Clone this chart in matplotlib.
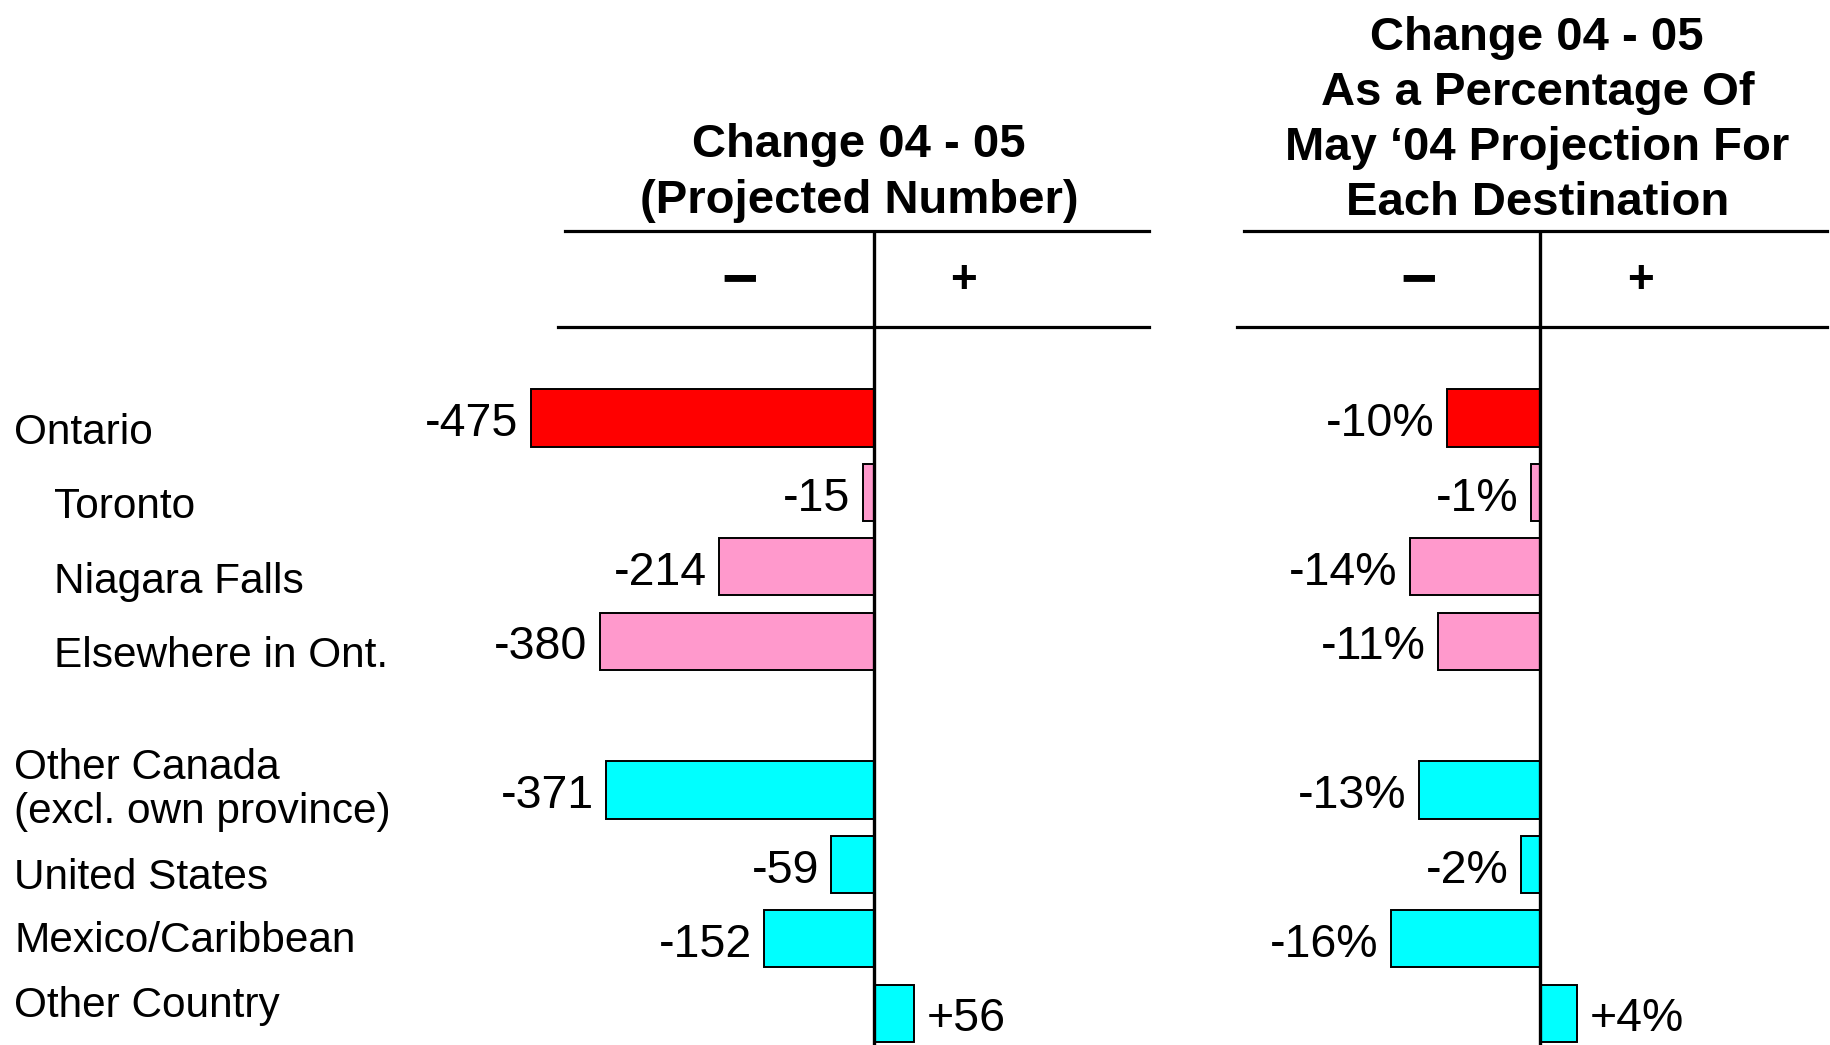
import numpy as np
import matplotlib.pyplot as plt
from matplotlib import transforms

plt.rcParams['font.family'] = ['Liberation Sans', 'DejaVu Sans']

categories = ['Ontario', 'Toronto', 'Niagara Falls', 'Elsewhere in Ont.',
              'Other Canada\n(excl. own province)', 'United States',
              'Mexico/Caribbean', 'Other Country']
indented = [False, True, True, True, False, False, False, False]
change_num = [-475, -15, -214, -380, -371, -59, -152, 56]
change_pct = [-10, -1, -14, -11, -13, -2, -16, 4]
bar_colors = ['#FF0000', '#FF99CC', '#FF99CC', '#FF99CC',
              '#00FFFF', '#00FFFF', '#00FFFF', '#00FFFF']
# the row labels do not sit exactly level with their bars
label_nudge = [0.20, 0.20, 0.20, 0.20, 0.0, 0.18, 0.03, -0.10]

# blank row between the Ontario block and the rest
idx = np.arange(len(categories))
ypos = idx + (idx >= 4)

W, H = 1831, 1045
fig = plt.figure(figsize=(W / 100, H / 100), dpi=100)
fig.patch.set_facecolor('white')

top = 231
ax1 = fig.add_axes([400 / W, 0, (1149 - 400) / W, (H - top) / H])
ax2 = fig.add_axes([1237 / W, 0, (1831 - 1237) / W, (H - top) / H])

row_px = 74.4
ylim = ((H - 418) / row_px, (top - 418) / row_px)

for ax, vals, xl, fmt in [(ax1, change_num, (-656.5, 380.9), '{:+d}'),
                          (ax2, change_pct, (-32.6, 31.3), '{:+d}%')]:
    ax.barh(ypos, vals, height=0.77, color=bar_colors, edgecolor='black', linewidth=1.4, zorder=2)
    ax.axvline(0, color='black', linewidth=2.4, zorder=3)
    ax.set_xlim(*xl)
    ax.set_ylim(*ylim)
    ax.axis('off')
    for y, v in zip(ypos, vals):
        ax.annotate(fmt.format(v), (v, y), xytext=(-9 if v < 0 else 9, -4.5),
                    textcoords='offset points', ha='right' if v < 0 else 'left',
                    va='center', fontsize=33.5)

# header rules and signs
ax1.plot([0.22, 1.0], [1.0, 1.0], transform=ax1.transAxes, color='black', lw=2.3, clip_on=False)
ax1.plot([0.211, 1.0], [0.882, 0.882], transform=ax1.transAxes, color='black', lw=2.3, clip_on=False)
ax2.plot([0.012, 0.993], [1.0, 1.0], transform=ax2.transAxes, color='black', lw=2.3, clip_on=False)
ax2.plot([0.0, 0.993], [0.882, 0.882], transform=ax2.transAxes, color='black', lw=2.3, clip_on=False)
for ax, xm, xp in [(ax1, 0.454, 0.752), (ax2, 0.305, 0.680)]:
    ax.text(xm, 0.938, '\u2212', transform=ax.transAxes, ha='center', va='center',
            fontsize=45, fontweight='bold')
    ax.text(xp, 0.938, '+', transform=ax.transAxes, ha='center', va='center',
            fontsize=33, fontweight='bold')

hdr1 = transforms.blended_transform_factory(ax1.transData, ax1.transAxes)
ax1.text(-21, 1.071, 'Change 04 - 05\n(Projected Number)', transform=hdr1,
         ha='center', va='center', fontsize=34, fontweight='bold', linespacing=1.36)
hdr2 = transforms.blended_transform_factory(ax2.transData, ax2.transAxes)
ax2.text(-0.3, 1.1357, 'Change 04 - 05\nAs a Percentage Of\nMay \u201804 Projection For\nEach Destination',
         transform=hdr2, ha='center', va='center', fontsize=34, fontweight='bold', linespacing=1.32)

# row labels
lab_tr = transforms.blended_transform_factory(fig.transFigure, ax1.transData)
for y, name, ind, nd in zip(ypos, categories, indented, label_nudge):
    ax1.text((54 if ind else 14) / W, y + nd, name, transform=lab_tr, ha='left', va='center',
             fontsize=30.5, linespacing=1.16)

fig.savefig('out.png', dpi=100, facecolor='white')
